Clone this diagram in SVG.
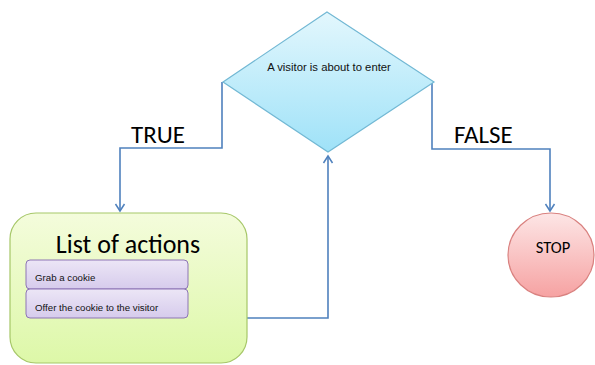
<svg xmlns="http://www.w3.org/2000/svg" width="595" height="365" viewBox="0 0 595 365">
  <defs>
    <linearGradient id="gDiamond" x1="0" y1="0" x2="0" y2="1">
      <stop offset="0" stop-color="#e3f7fd"/>
      <stop offset="1" stop-color="#9fe2f8"/>
    </linearGradient>
    <linearGradient id="gList" x1="0" y1="0" x2="0" y2="1">
      <stop offset="0" stop-color="#f4fcdc"/>
      <stop offset="1" stop-color="#ddf8a8"/>
    </linearGradient>
    <linearGradient id="gItem" x1="0" y1="0" x2="0" y2="1">
      <stop offset="0" stop-color="#ece6f6"/>
      <stop offset="1" stop-color="#d6cbec"/>
    </linearGradient>
    <linearGradient id="gStop" x1="0" y1="0" x2="0" y2="1">
      <stop offset="0" stop-color="#fde6e6"/>
      <stop offset="1" stop-color="#f6a2a2"/>
    </linearGradient>
    <marker id="arrow" markerWidth="12" markerHeight="12" refX="10" refY="6" orient="auto" markerUnits="userSpaceOnUse">
      <polyline points="3,1.5 10,6 3,10.5" fill="none" stroke="#4f81bd" stroke-width="1.5"/>
    </marker>
    <style>
      .conn { fill: none; stroke: #4f81bd; stroke-width: 1.6; }
      .lbl { font-family: Carlito, Lato, "Liberation Sans", sans-serif; fill: #000; }
      .small { font-family: "Liberation Sans", Arial, sans-serif; font-size: 9.7px; fill: #111; }
      .cond { font-family: "Liberation Sans", Arial, sans-serif; font-size: 11.3px; fill: #111; }
      .item { fill: url(#gItem); stroke: #8d75b5; stroke-width: 1; }
    </style>
  </defs>

  <rect width="595" height="365" fill="#ffffff"/>

  <g id="connectors">
    <polyline class="conn" points="222,82 222,148 120,148 120,211" marker-end="url(#arrow)"/>
    <polyline class="conn" points="432,82 432,149 550,149 550,211" marker-end="url(#arrow)"/>
    <polyline class="conn" points="247,318 328,318 328,156" marker-end="url(#arrow)"/>
    <text class="lbl" x="131" y="143" font-size="25">TRUE</text>
    <text class="lbl" x="454" y="143" font-size="25">FALSE</text>
  </g>

  <g id="decision">
    <polygon points="327,12 434,82 328,152 223,82" fill="url(#gDiamond)" stroke="#72b8d4" stroke-width="1.2"/>
    <text class="cond" x="329" y="71" text-anchor="middle">A visitor is about to enter</text>
  </g>

  <g id="list">
    <rect x="10" y="213" width="237" height="150" rx="26" ry="26" fill="url(#gList)" stroke="#a6c768" stroke-width="1.2"/>
    <text class="lbl" x="128" y="253" font-size="26" text-anchor="middle">List of actions</text>
    <g id="item-grab">
      <rect class="item" x="26" y="260" width="162" height="29" rx="4"/>
      <text class="small" x="35" y="281">Grab a cookie</text>
    </g>
    <g id="item-offer">
      <rect class="item" x="26" y="289" width="162" height="29" rx="4"/>
      <text class="small" x="35" y="311">Offer the cookie to the visitor</text>
    </g>
  </g>

  <g id="stop">
    <ellipse cx="551" cy="255" rx="43" ry="42" fill="url(#gStop)" stroke="#d9817f" stroke-width="1.2"/>
    <text class="lbl" x="553" y="253" font-size="16.5" text-anchor="middle">STOP</text>
  </g>
</svg>
